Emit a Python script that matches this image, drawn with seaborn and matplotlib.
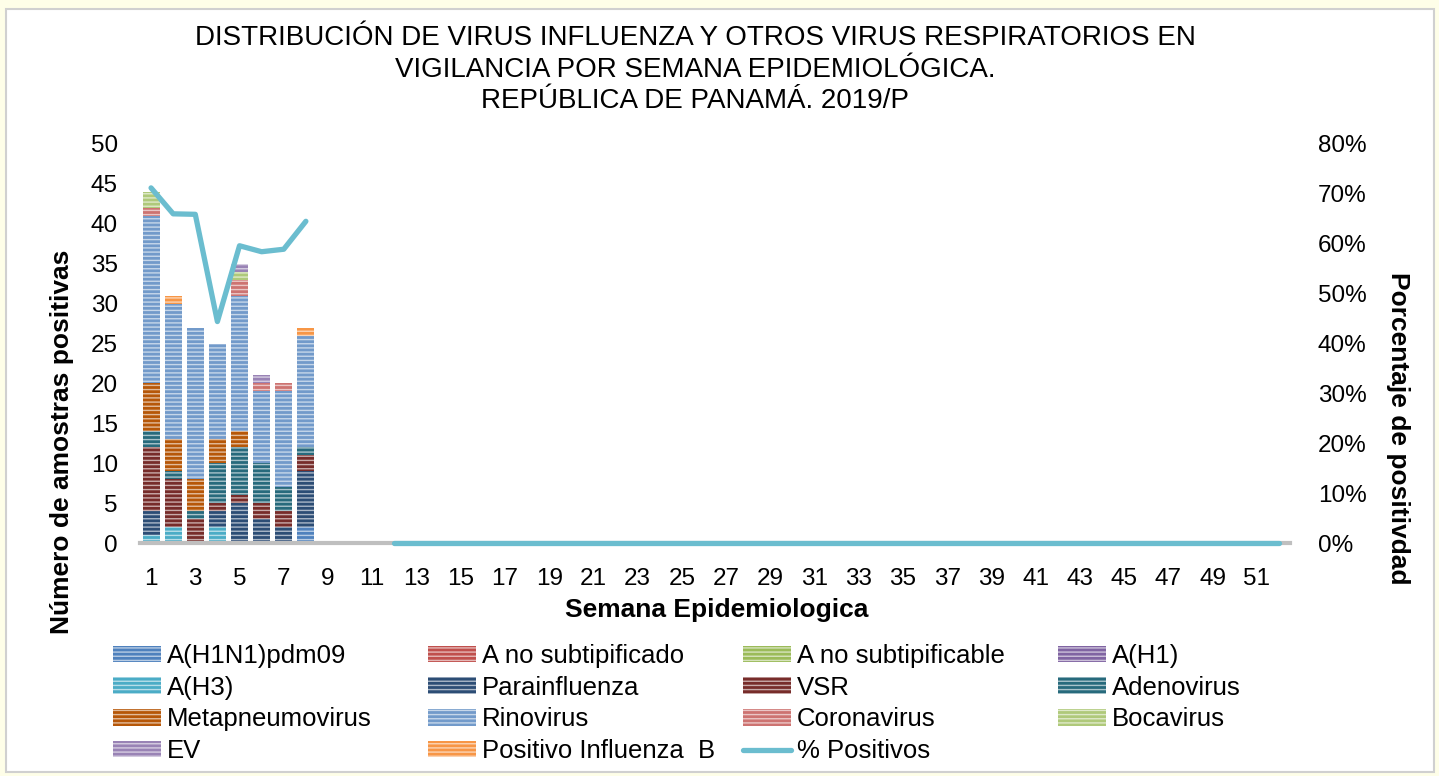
import numpy as np
import pandas as pd
import seaborn as sns
import matplotlib.pyplot as plt
from matplotlib.patches import Rectangle
from matplotlib.lines import Line2D
from matplotlib.ticker import FuncFormatter


# semanas epidemiologicas 1..52
semanas = list(range(1, 53))

# casos por semana (semanas 1 a 8, el resto sin datos = 0)
series = ["A(H1N1)pdm09", "A no subtipificado", "A no subtipificable", "A(H1)",
          "A(H3)", "Parainfluenza", "VSR", "Adenovirus", "Metapneumovirus",
          "Rinovirus", "Coronavirus", "Bocavirus", "EV", "Positivo Influenza  B"]
h1n1        = [0, 0, 0, 0, 0, 0, 0, 2]
a_no_subtip = [0, 0, 0, 0, 0, 0, 0, 0]
a_no_subtble = [0, 0, 0, 0, 0, 0, 0, 0]
a_h1        = [0, 0, 0, 0, 0, 0, 0, 0]
a_h3        = [1, 2, 0, 2, 0, 0, 0, 0]
parainf     = [3, 0, 0, 2, 5, 3, 2, 7]
vsr         = [8, 6, 3, 1, 1, 2, 2, 2]
adeno       = [2, 1, 1, 5, 6, 5, 3, 1]
metapneumo  = [6, 4, 4, 3, 2, 0, 0, 0]
rino        = [21, 17, 19, 12, 17, 9, 12, 14]
corona      = [1, 0, 0, 0, 2, 1, 1, 0]
boca        = [2, 0, 0, 0, 1, 0, 0, 0]
ev          = [0, 0, 0, 0, 1, 1, 0, 0]
flu_b       = [0, 1, 0, 0, 0, 0, 0, 1]

# % positivos (semanas 9-11 sin dato, 12-52 en cero)
pct_positivos = ([71.2, 66.0, 65.9, 44.4, 59.6, 58.4, 58.9, 64.5]
                 + [np.nan] * 3 + [0.0] * 41)

colores = ["#4F81BD", "#C0504D", "#9BBB59", "#8064A2", "#4BACC6", "#2C4D75",
           "#772C2A", "#276A7C", "#B65708", "#729ACA", "#CD7371", "#AFC97A",
           "#9983B5", "#F79646"]
color_linea = "#6BBDCF"

valores = [h1n1, a_no_subtip, a_no_subtble, a_h1, a_h3, parainf, vsr, adeno,
           metapneumo, rino, corona, boca, ev, flu_b]


sns.set_theme(style="white")
plt.rcParams['font.family'] = ['Liberation Sans', 'DejaVu Sans']
plt.rcParams['hatch.linewidth'] = 1.0
plt.rcParams['text.color'] = 'black'
plt.rcParams['axes.labelcolor'] = 'black'
plt.rcParams['xtick.color'] = 'black'
plt.rcParams['ytick.color'] = 'black'

fig = plt.figure(figsize=(14.39, 7.76), dpi=100, facecolor="#FEFEE8")
# panel blanco con borde gris
fig.patches.append(Rectangle((6 / 1439, 4 / 776), 1428 / 1439, 763 / 776,
                             transform=fig.transFigure, facecolor="white",
                             edgecolor="#D0D0D0", linewidth=1.5, zorder=-10))

ax = fig.add_axes([140 / 1439, 1 - 543 / 776, 1150 / 1439, 399 / 776])
ax.set_facecolor("none")

bottom = np.zeros(len(semanas))
for nombre, vals, col in zip(series, valores, colores):
    h = np.pad(np.array(vals, dtype=float), (0, len(semanas) - len(vals)))
    df = pd.DataFrame({"semana": semanas, "n": h})
    sns.barplot(data=df, x="semana", y="n", ax=ax, color=col, saturation=1,
                errorbar=None, width=0.77, bottom=bottom, hatch="----",
                edgecolor=(1, 1, 1, 0.6), linewidth=0, label=nombre, legend=False)
    bottom = bottom + h

ax.set_ylim(0, 50)
ax.set_xlim(-0.5, 51.5)
ax.set_yticks(range(0, 51, 5))
ax.set_xticks(range(0, 52, 2))
ax.set_xticklabels([str(s) for s in semanas[::2]])
ax.tick_params(axis="both", labelsize=17.5, length=0)
ax.tick_params(axis="x", pad=18)
ax.tick_params(axis="y", pad=16)
ax.set_xlabel("")
ax.set_ylabel("")
for s in ["top", "right", "left"]:
    ax.spines[s].set_visible(False)
ax.spines["bottom"].set_color("#BFBFBF")
ax.spines["bottom"].set_linewidth(3)

# eje secundario: porcentaje de positividad
ax2 = ax.twinx()
ax2.set_zorder(ax.get_zorder() + 1)
dfl = pd.DataFrame({"x": np.arange(len(semanas)), "pct": pct_positivos})
dfl["tramo"] = np.where(dfl["x"] < 8, 0, 1)
dfl = dfl.dropna()
sns.lineplot(data=dfl, x="x", y="pct", units="tramo", estimator=None, ax=ax2,
             color=color_linea, linewidth=3.8, legend=False)
for ln in ax2.lines:
    ln.set_clip_on(False)
ax2.set_ylim(0, 80)
ax2.set_yticks(range(0, 81, 10))
ax2.yaxis.set_major_formatter(FuncFormatter(lambda v, p: f"{v:.0f}%"))
ax2.tick_params(axis="y", labelsize=17.5, length=0, pad=20)
ax2.set_xlabel("")
ax2.set_ylabel("")
for s in ["top", "right", "left", "bottom"]:
    ax2.spines[s].set_visible(False)
ax2.patch.set_visible(False)

# titulos
tit = dict(ha="center", va="center", fontsize=20)
fig.text(695 / 1439, 1 - 38 / 776, "DISTRIBUCIÓN DE VIRUS INFLUENZA Y OTROS VIRUS RESPIRATORIOS EN", **tit)
fig.text(695 / 1439, 1 - 70 / 776, "VIGILANCIA POR SEMANA EPIDEMIOLÓGICA.", **tit)
fig.text(695 / 1439, 1 - 101 / 776, "REPÚBLICA DE PANAMÁ. 2019/P", **tit)
fig.text(717 / 1439, 1 - 610 / 776, "Semana Epidemiologica", ha="center",
         va="center", fontsize=19, fontweight="bold")
fig.text(62 / 1439, 1 - 442 / 776, "Número de amostras positivas", ha="center",
         va="center", rotation=90, fontsize=19, fontweight="bold")
fig.text(1398 / 1439, 1 - 428 / 776, "Porcentaje de positivdad", ha="center",
         va="center", rotation=270, fontsize=19, fontweight="bold")

# leyenda en 4 columnas (orden por filas)
h_bar, l_bar = ax.get_legend_handles_labels()
h_all = h_bar + [Line2D([], [], color=color_linea, linewidth=3.8)]
l_all = l_bar + ["% Positivos"]
col_x = [113, 428, 743, 1058]
for c in range(4):
    idx = list(range(c, len(h_all), 4))
    fig.legend([h_all[i] for i in idx], [l_all[i] for i in idx],
               loc="upper left", bbox_to_anchor=(col_x[c] / 1439, 1 - 644 / 776),
               frameon=False, fontsize=18.5, borderpad=0, borderaxespad=0,
               handlelength=1.85, handleheight=0.6, handletextpad=0.25,
               labelspacing=0.3)

fig.savefig("out.png", dpi=100, facecolor=fig.get_facecolor())
